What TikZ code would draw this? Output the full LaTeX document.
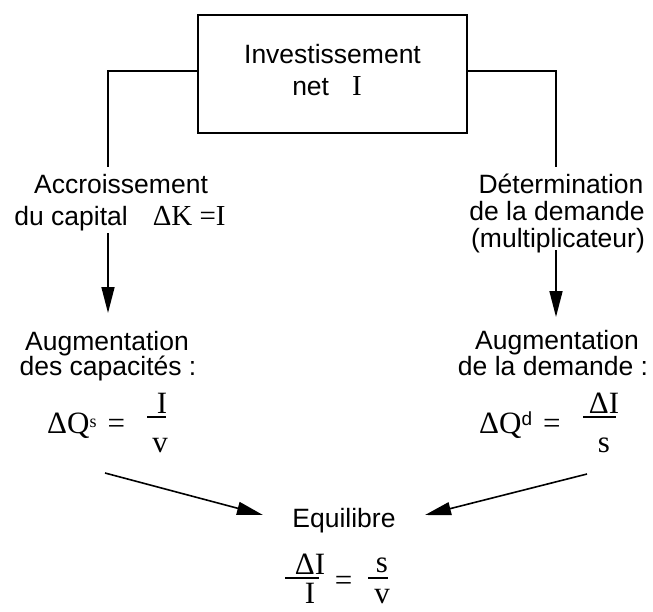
\documentclass[tikz,border=0pt]{standalone}
\usepackage{fontspec}
\setmainfont{Liberation Sans}
\newfontfamily\serif{Liberation Serif}
\usetikzlibrary{arrows.meta}
\begin{document}
\begin{tikzpicture}[x=1pt,y=-1pt,
  txt/.style={font=\fontsize{26.5}{27}\selectfont, inner sep=0pt, anchor=base},
  mth/.style={font=\serif\fontsize{31}{31}\selectfont, inner sep=0pt, anchor=base},
  conn/.style={line width=1.6pt},
  arr/.style={line width=1.6pt, -{Triangle[length=26pt,width=13pt]}},
  fracbar/.style={line width=1.4pt},
  boxstyle/.style={draw, line width=1.6pt, minimum width=269pt, minimum height=118pt, inner sep=0pt}]
\fill[white] (0,0) rectangle (653,611);
\useasboundingbox (0,0) rectangle (653,611);

% box
\node[boxstyle] (box) at (332.5,74) {};
\node[txt] (boxA) at (332.5,63) {Investissement};
\node[txt] (boxB) at (327,95) {net\hspace{23pt}{\serif\fontsize{29}{29}\selectfont I}};

% connectors from box
\coordinate (lc) at (108,71);
\coordinate (lend) at (108,167);
\coordinate (rc) at (556,71);
\coordinate (rend) at (556,167);
\draw[conn] (box.west |- lc) -- (lc) -- (lend);
\draw[conn] (box.east |- rc) -- (rc) -- (rend);

% left branch
\node[txt] (acc1) at (121,193) {Accroissement};
\node[txt] (acc2) at (120,225) {du capital\hspace{25pt}{\serif\fontsize{29}{29}\selectfont ΔK =I}};
\coordinate (la1) at (108,233);
\coordinate (la2) at (108,313);
\draw[arr] (la1) -- (la2);
\node[txt] (aug1) at (107,350) {Augmentation};
\node[txt] (aug2) at (108,375) {des capacités :};

\node[mth, anchor=base west] (qs) at (47,433) {ΔQ\raisebox{6pt}{\fontsize{18}{18}\selectfont s}\hspace{11pt}=};
\node[mth] (qsn) at (162,413) {I};
\coordinate (qsb1) at (147,417);
\coordinate (qsb2) at (166,417);
\draw[fracbar] (qsb1) -- (qsb2);
\node[mth] (qsd) at (160,452) {v};

% right branch
\node[txt] (det1) at (561,193) {Détermination};
\node[txt] (det2) at (557,220) {de la demande};
\node[txt] (det3) at (558,247) {(multiplicateur)};
\coordinate (ra1) at (556,250);
\coordinate (ra2) at (556,317);
\draw[arr] (ra1) -- (ra2);
\node[txt] (dem1) at (557,349) {Augmentation};
\node[txt] (dem2) at (553,375) {de la demande :};

\node[mth, anchor=base west] (qd) at (479,433) {ΔQ\raisebox{8pt}{\fontsize{19}{19}\selectfont\rmfamily d}\hspace{11pt}=};
\node[mth] (qdn) at (604,413) {ΔI};
\coordinate (qdb1) at (583,417);
\coordinate (qdb2) at (616,417);
\draw[fracbar] (qdb1) -- (qdb2);
\node[mth] (qdd) at (604,452) {s};

% equilibrium
\coordinate (da1) at (105,473);
\coordinate (da2) at (263,515);
\coordinate (db1) at (587,474);
\coordinate (db2) at (425,515);
\draw[arr] (da1) -- (da2);
\draw[arr] (db1) -- (db2);
\node[txt] (equ) at (344,527) {Equilibre};
\node[mth] (en) at (310,574) {ΔI};
\coordinate (eb1) at (285,578);
\coordinate (eb2) at (319,578);
\draw[fracbar] (eb1) -- (eb2);
\node[mth] (ed) at (310,603) {I};
\node[mth, anchor=center] (eq) at (343.5,583) {=};
\node[mth] (sn) at (382,572) {s};
\coordinate (sb1) at (368,578);
\coordinate (sb2) at (388,578);
\draw[fracbar] (sb1) -- (sb2);
\node[mth] (sd) at (382,603) {v};
\end{tikzpicture}
\end{document}
